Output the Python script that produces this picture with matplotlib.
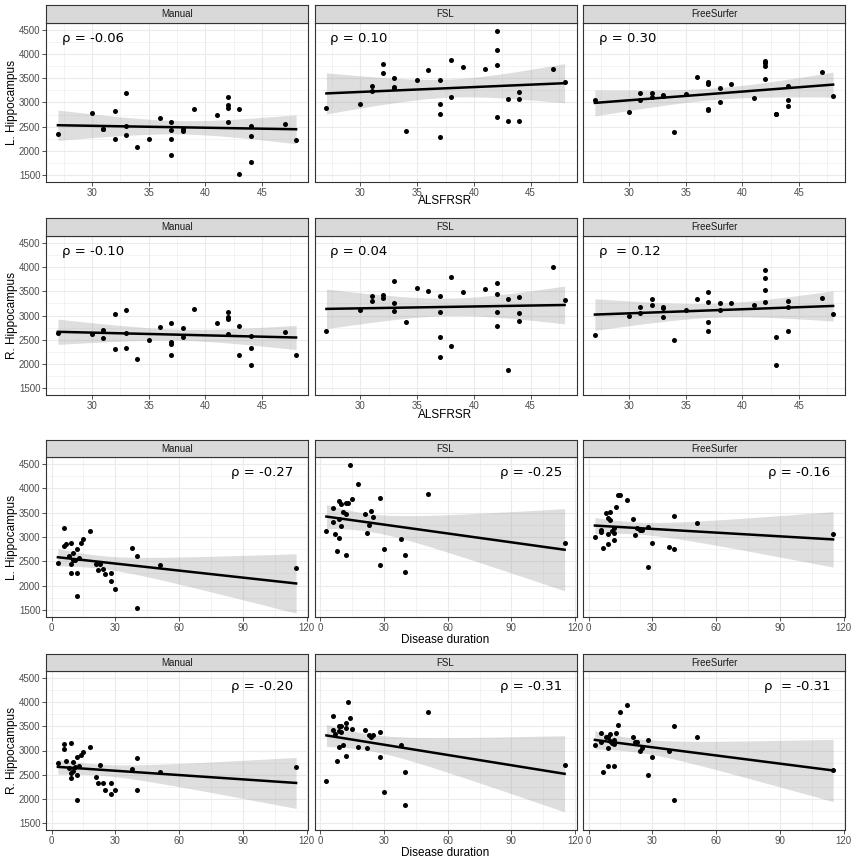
import numpy as np
import matplotlib
matplotlib.use("Agg")
import matplotlib.pyplot as plt
from matplotlib.ticker import MultipleLocator

plt.rcParams["font.family"] = ["Liberation Sans", "DejaVu Sans"]

# x variables (same subjects in every panel)
alsfrs = [27, 30, 31, 31, 32, 32, 33, 33, 33, 34, 35, 36, 37, 37, 37, 37,
          38, 38, 39, 41, 42, 42, 42, 42, 43, 43, 44, 44, 44, 47, 48]
duration = [3, 6, 6, 7, 8, 9, 9, 9, 10, 10, 11, 12, 12, 12, 13, 14,
            15, 18, 21, 22, 23, 24, 25, 28, 28, 30, 38, 40, 40, 51, 115]

methods = ["Manual", "FSL", "FreeSurfer"]

# row 1: L. Hippocampus vs ALSFRSR
l_manual_als = [2353, 2773, 2443, 2450, 2821, 2243, 3193, 2505, 2333, 2085, 2243, 2677, 2594, 2436, 2243, 1913,
                2443, 2415, 2870, 2746, 3124, 2952, 2883, 2594, 2863, 1528, 2505, 2305, 1776, 2553, 2230]
l_fsl_als = [2876, 2959, 3344, 3234, 3805, 3606, 3516, 3310, 3320, 2415, 3475, 3674, 3475, 2959, 2752, 2285,
             3874, 3110, 3736, 3702, 4479, 4094, 3784, 2704, 3069, 2615, 3220, 3076, 2622, 3695, 3420]
l_fs_als = [3055, 2794, 3193, 3048, 3200, 3124, 3138, 3130, 3145, 2381, 3186, 3523, 3434, 3379, 2870, 2850,
            3296, 3007, 3386, 3090, 3867, 3826, 3764, 3496, 2759, 2770, 3344, 3048, 2924, 3626, 3131]

# row 2: R. Hippocampus vs ALSFRSR
r_manual_als = [2642, 2615, 2697, 2532, 3021, 2312, 3117, 2642, 2319, 2092, 2491, 2759, 2842, 2457, 2415, 2188,
                2739, 2553, 3138, 2849, 3069, 2966, 2918, 2622, 2780, 2181, 2580, 2319, 1968, 2656, 2181]
r_fsl_als = [2684, 3117, 3413, 3310, 3434, 3365, 3709, 3268, 3103, 2856, 3571, 3502, 3413, 3069, 2546, 2133,
             3798, 2367, 3489, 3551, 3674, 3454, 3069, 2773, 3344, 1865, 3385, 3048, 2883, 4012, 3324]
r_fs_als = [2594, 3000, 3179, 3055, 3351, 3213, 3186, 3145, 2979, 2484, 3124, 3351, 3489, 3282, 2870, 2684,
            3262, 3110, 3268, 3220, 3936, 3778, 3530, 3275, 2546, 1968, 3310, 3172, 2684, 3358, 3041]

# row 3: L. Hippocampus vs disease duration
l_manual_dur = [2472, 3192, 2815, 2863, 2610, 2870, 2452, 2253, 2678, 2520, 2520, 2746, 2253, 1787, 2561, 2883,
                2952, 3130, 2445, 2315, 2445, 2335, 2246, 2253, 2096, 1924, 2780, 2602, 1541, 2425, 2363]
l_fsl_dur = [3123, 3603, 3308, 3068, 2712, 3740, 3363, 2972, 3671, 3226, 3514, 3692, 3479, 2623, 3692, 4479,
             3788, 4096, 3479, 3075, 3247, 3534, 3418, 3795, 2418, 2760, 2966, 2623, 2288, 3884, 2877]
l_fs_dur = [3007, 3137, 3100, 2767, 3493, 3390, 3055, 2850, 3520, 3350, 3130, 3192, 3089, 2938, 3623, 3856,
            3863, 3767, 3377, 3048, 3192, 3151, 3151, 3199, 2383, 2870, 2801, 3424, 2760, 3288, 3055]

# row 4: R. Hippocampus vs disease duration
r_manual_dur = [2746, 3131, 3028, 2780, 2629, 3145, 2539, 2422, 2766, 2580, 2663, 2856, 2491, 1968, 2677, 2904,
                2959, 3076, 2457, 2319, 2697, 2319, 2181, 2319, 2099, 2188, 2615, 2842, 2181, 2560, 2649]
r_fsl_dur = [2374, 3709, 3434, 3337, 2780, 3502, 3406, 3076, 3502, 3385, 3124, 3571, 3460, 2890, 4012, 3674,
             3454, 3076, 3420, 3055, 3317, 3282, 3330, 3379, 2856, 2140, 3124, 2553, 1872, 3798, 2691]
r_fs_dur = [3124, 3358, 3179, 2546, 3282, 3282, 3062, 2684, 3351, 3200, 3165, 3227, 3131, 2684, 3365, 3537,
            3791, 3950, 3289, 3186, 3186, 2986, 3062, 3220, 2484, 2870, 3000, 3502, 1968, 3275, 2594]

rho_als_l = ["-0.06", "0.10", "0.30"]
rho_als_r = ["-0.10", "0.04", "0.12"]
rho_dur_l = ["-0.27", "-0.25", "-0.16"]
rho_dur_r = ["-0.20", "-0.31", "-0.31"]

rows = [
    (alsfrs, [l_manual_als, l_fsl_als, l_fs_als], rho_als_l, "L. Hippocampus", "ALSFRSR"),
    (alsfrs, [r_manual_als, r_fsl_als, r_fs_als], rho_als_r, "R. Hippocampus", "ALSFRSR"),
    (duration, [l_manual_dur, l_fsl_dur, l_fs_dur], rho_dur_l, "L. Hippocampus", "Disease duration"),
    (duration, [r_manual_dur, r_fsl_dur, r_fs_dur], rho_dur_r, "R. Hippocampus", "Disease duration"),
]

W, H = 851, 860
fig = plt.figure(figsize=(W / 100, H / 100), dpi=100)
fig.patch.set_facecolor("white")

col_left = [46, 314.5, 583]
col_w = 262
# strip top, strip bottom, panel bottom (pixels from top)
row_pos = [(5, 23, 182), (218, 236, 395), (440, 457, 617), (654, 671, 830)]
xlab_y = [201, 415, 640, 853]

# ggplot-ish colours
border = "#333333"
tick_col = "#4D4D4D"
grid_col = "#EBEBEB"
T_CRIT = 2.045  # t(0.975, df=29)


def rect(left, top, width, height):
    return [left / W, 1 - (top + height) / H, width / W, height / H]


def fit_band(x, y):
    x = np.asarray(x, float)
    y = np.asarray(y, float)
    b, a = np.polyfit(x, y, 1)
    xs = np.linspace(x.min(), x.max(), 100)
    fit = a + b * xs
    resid = y - (a + b * x)
    n = len(x)
    s = np.sqrt(np.sum(resid ** 2) / (n - 2))
    sxx = np.sum((x - x.mean()) ** 2)
    se = s * np.sqrt(1 / n + (xs - x.mean()) ** 2 / sxx)
    return xs, fit, fit - T_CRIT * se, fit + T_CRIT * se


for r, (xvals, series, rhos, ylabel, xlabel) in enumerate(rows):
    s_top, s_bot, p_bot = row_pos[r]
    is_als = xvals is alsfrs
    for c in range(3):
        ax = fig.add_axes(rect(col_left[c], s_bot, col_w, p_bot - s_bot))
        ax.set_facecolor("white")

        xs, fit, lo, hi = fit_band(xvals, series[c])
        ax.fill_between(xs, lo, hi, color="#999999", alpha=0.32, lw=0, zorder=2)
        ax.plot(xs, fit, color="black", lw=1.8, zorder=3)
        ax.scatter(xvals, series[c], s=13, color="black", zorder=4, lw=0)

        ax.set_ylim(1355, 4645)
        ax.yaxis.set_major_locator(MultipleLocator(500))
        ax.yaxis.set_minor_locator(MultipleLocator(250))
        if is_als:
            ax.set_xlim(25.95, 49.05)
            ax.set_xticks([30, 35, 40, 45])
            ax.xaxis.set_minor_locator(MultipleLocator(2.5))
        else:
            ax.set_xlim(-2.6, 120.6)
            ax.set_xticks([0, 30, 60, 90, 120])
            ax.xaxis.set_minor_locator(MultipleLocator(15))

        ax.grid(which="major", color=grid_col, lw=0.8, zorder=0)
        ax.grid(which="minor", color=grid_col, lw=0.4, zorder=0)
        ax.set_axisbelow(True)

        for sp in ax.spines.values():
            sp.set_color(border)
            sp.set_linewidth(0.8)
        ax.tick_params(which="major", length=2.8, width=0.6, color=border,
                       labelsize=7, labelcolor=tick_col, pad=1.2)
        ax.tick_params(which="minor", length=0)
        if c > 0:
            ax.tick_params(axis="y", which="major", length=0, labelleft=False)

        # correlation label
        gap = "  " if c == 2 and r in (1, 3) else " "
        txt = "\u03c1" + gap + "= " + rhos[c]
        if is_als:
            ax.text(0.06, 0.905, txt, transform=ax.transAxes, ha="left", va="center",
                    fontsize=9.5, family="DejaVu Sans")
        else:
            ax.text(0.945, 0.905, txt, transform=ax.transAxes, ha="right", va="center",
                    fontsize=9.5, family="DejaVu Sans")

        # facet strip
        sax = fig.add_axes(rect(col_left[c], s_top, col_w, s_bot - s_top))
        sax.set_facecolor("#D9D9D9")
        sax.set_xticks([])
        sax.set_yticks([])
        for sp in sax.spines.values():
            sp.set_color(border)
            sp.set_linewidth(0.8)
        sax.text(0.5, 0.48, methods[c], ha="center", va="center", fontsize=7,
                 color="#1A1A1A", transform=sax.transAxes)

    # axis titles for the row
    fig.text(12 / W, 1 - ((s_bot + p_bot) / 2) / H, ylabel, rotation=90,
             ha="center", va="center", fontsize=8.5)
    fig.text((col_left[1] + col_w / 2) / W, 1 - xlab_y[r] / H, xlabel,
             ha="center", va="center", fontsize=8.5)

fig.savefig("out.png", dpi=100, facecolor="white")
